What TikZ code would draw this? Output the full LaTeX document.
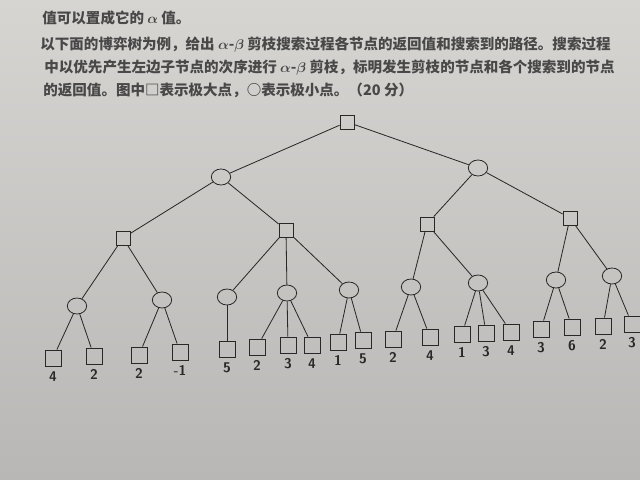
\documentclass[tikz,border=0pt]{standalone}
\usepackage{fontspec}
\newfontfamily\cjk{Noto Sans CJK SC}
\usepackage{amsmath}
\usetikzlibrary{shapes.geometric}
\definecolor{papertop}{RGB}{214,213,210}
\definecolor{paperbot}{RGB}{184,183,181}
\definecolor{ink}{RGB}{40,40,40}
\tikzset{
 maxnode/.style={draw=ink, rectangle, minimum size=0.42cm, inner sep=0},
 leafnode/.style={draw=ink, rectangle, minimum size=0.48cm, inner sep=0},
 minnode/.style={draw=ink, ellipse, minimum width=0.58cm, minimum height=0.48cm, inner sep=0},
 val/.style={text=ink, font=\sffamily\bfseries\large, inner sep=1},
 textline/.style={text=ink!85, font=\cjk\bfseries\fontsize{12.4}{14}\selectfont, anchor=west, inner sep=0}
}

\begin{document}
\begin{tikzpicture}[x=0.03cm, y=-0.03cm, line width=0.7pt]
\useasboundingbox (0,0) rectangle (640,480);
\shade[top color=papertop, bottom color=paperbot] (0,0) rectangle (640,480);
% question text
\node[textline] (t1) at (42,18) {值可以置成它的 $\boldsymbol{\alpha}$ 值。};
\node[textline] (t2) at (40,45) {以下面的博弈树为例，给出 $\boldsymbol{\alpha}$-$\boldsymbol{\beta}$ 剪枝搜索过程各节点的返回值和搜索到的路径。搜索过程};
\node[textline] (t3) at (44,68) {中以优先产生左边子节点的次序进行 $\boldsymbol{\alpha}$-$\boldsymbol{\beta}$ 剪枝，标明发生剪枝的节点和各个搜索到的节点};
\node[textline] (t4) at (43,90) {的返回值。图中□表示极大点，○表示极小点。（20 分）};
% upper levels
\node[maxnode] (r) at (347,122) {};
\node[minnode] (a) at (221,177) {};
\node[minnode] (b) at (478,168) {};
\draw[ink] (r) -- (a);
\draw[ink] (r) -- (b);
\foreach \n/\x/\y/\p in {a1/123/238/a, a2/286/230/a, b1/427/224/b, b2/570/218/b} {
 \node[maxnode] (\n) at (\x,\y) {};
 \draw[ink] (\p) -- (\n);
}
\foreach \n/\x/\y/\p in {a11/77/306/a1, a12/162/300/a1, a21/227/297/a2, a22/287/293/a2, a23/349/290/a2, b11/411/287/b1, b12/478/283/b1, b21/556/280/b2, b22/612/276/b2} {
 \node[minnode] (\n) at (\x,\y) {};
 \draw[ink] (\p) -- (\n);
}
% leaves with their values
\foreach \n/\x/\y/\p/\v in {l1/53/358/a11/4, l2/94/356/a11/2, l3/139/355/a12/2, l4/180/352/a12/-1, l5/227/349/a21/5, l6/257/347/a22/2, l7/288/345/a22/3, l8/312/345/a22/4, l9/338/342/a23/1, l10/363/340/a23/5, l11/393/339/b11/2, l12/430/337/b11/4, l13/462/334/b12/1, l14/486/333/b12/3, l15/511/332/b12/4, l16/541/329/b21/3, l17/572/327/b21/6, l18/603/326/b22/2, l19/632/324/b22/3} {
 \node[leafnode, label={[val, label distance=3pt]below:\v}] (\n) at (\x,\y) {};
 \draw[ink] (\p) -- (\n);
}
\end{tikzpicture}
\end{document}
